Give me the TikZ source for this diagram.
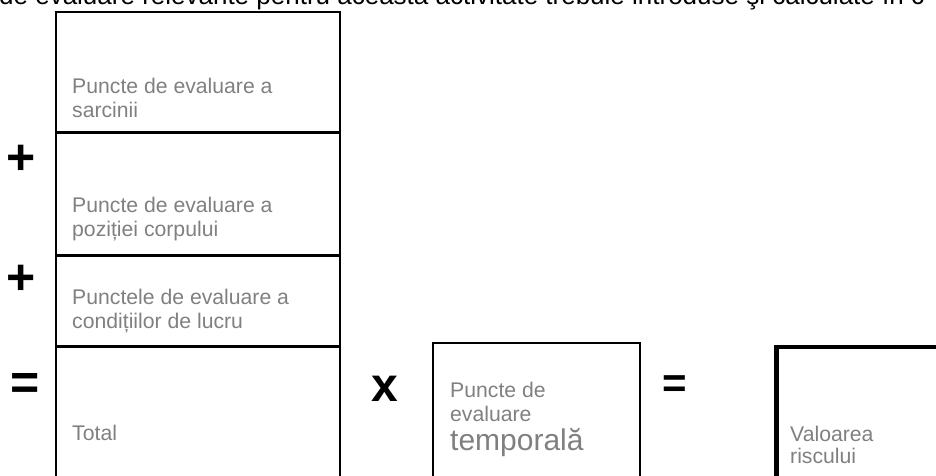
\documentclass[tikz,border=0pt]{standalone}
\usepackage{fontspec}
\setmainfont{Liberation Sans}
\usetikzlibrary{positioning}

\definecolor{hintgray}{HTML}{808080}
\tikzset{
  scorebox/.style={draw, line width=1.5pt, anchor=north west, inner sep=0pt, minimum width=284pt},
  riskbox/.style={draw, line width=4.5pt, anchor=north west, inner sep=0pt, minimum width=220pt, minimum height=170pt},
  hint/.style={text=hintgray, anchor=base west, align=left, inner sep=0pt, font=\fontsize{21.2}{24}\selectfont},
  op/.style={inner sep=0pt, font=\fontsize{50}{50}\selectfont\bfseries},
}

\begin{document}
\begin{tikzpicture}[x=1pt,y=-1pt]
    \useasboundingbox (0,0) rectangle (936,475);

    % cut-off heading line
    \node[anchor=base west, inner sep=0pt, font=\fontsize{26}{30}\selectfont] (head) at (-1,4)
        {de evaluare relevante pentru această activitate trebuie introduse şi calculate în c};

    % left column
    \node[scorebox, minimum height=120pt] (task) at (55,11) {};
    \node[scorebox, minimum height=121pt] (posture) at (task.south west) {};
    \node[scorebox, minimum height=90pt] (cond) at (posture.south west) {};
    \node[scorebox, minimum height=160pt] (total) at (cond.south west) {};

    \node[hint] (taskTxt) at (72,117) {Puncte de evaluare a\\sarcinii};
    \node[hint] (postureTxt) at (72,236) {Puncte de evaluare a\\poziției corpului};
    \node[hint] (condTxt) at (72,328) {Punctele de evaluare a\\condițiilor de lucru};
    \node[hint] (totalTxt) at (72,440) {Total};

    \node[op] (plusA) at (21,160) {+};
    \node[op] (plusB) at (21,280) {+};
    \node[op] (eqA) at (25,386) {=};

    % time and result
    \node[scorebox, minimum width=207pt, minimum height=160pt] (time) at (432,342) {};
    \node[hint, font=\fontsize{21.2}{24}\selectfont] (timeTxt) at (450,421) {Puncte de\\evaluare};
    \node[hint, font=\fontsize{30}{30}\selectfont] (timeWord) at (450,450) {temporală};

    \node[riskbox] (risk) at (774,344.5) {};
    \node[hint, font=\fontsize{21.2}{21.5}\selectfont] (riskTxt) at (790,463) {Valoarea\\riscului};

    \node[op, font=\fontsize{48}{48}\selectfont\bfseries] (times) at (385,389) {x};
    \node[op, font=\fontsize{42}{42}\selectfont\bfseries] (eqB) at (675,387) {=};
\end{tikzpicture}
\end{document}
